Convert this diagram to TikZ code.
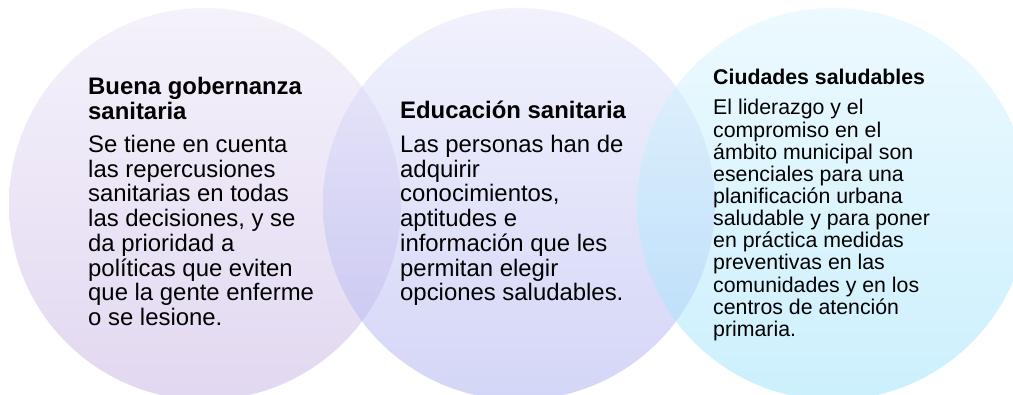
\documentclass[tikz,border=0pt]{standalone}
\usepackage{fontspec}
\setmainfont{Liberation Sans}
\definecolor{cAtop}{RGB}{235,229,247}
\definecolor{cAbot}{RGB}{197,177,227}
\definecolor{cBtop}{RGB}{227,229,251}
\definecolor{cBbot}{RGB}{169,173,239}
\definecolor{cCtop}{RGB}{219,245,255}
\definecolor{cCbot}{RGB}{153,225,251}
\newcommand{\toplines}[1]{\begin{tabular}[t]{@{}l@{}}#1\end{tabular}}
\tikzset{
  bubble/.style={opacity=0.5},
  ttl/.style={anchor=base west, inner sep=0pt, font=\fontsize{23.9}{24}\selectfont\bfseries},
  bodytxt/.style={anchor=base west, inner sep=0pt, font=\fontsize{23.9}{24.4}\selectfont},
  ttlsmall/.style={anchor=base west, inner sep=0pt, font=\fontsize{21.3}{22}\selectfont\bfseries},
  bodysmall/.style={anchor=base west, inner sep=0pt, font=\fontsize{21.3}{22}\selectfont},
}
\begin{document}
\begin{tikzpicture}[x=1pt,y=1pt]
\useasboundingbox (0,0) rectangle (1013,394);
\clip (0,0) rectangle (1013,394);
\shade[bubble, top color=cAtop, bottom color=cAbot] (205,190) circle (196);
\shade[bubble, top color=cBtop, bottom color=cBbot] (519,190) circle (196);
\shade[bubble, top color=cCtop, bottom color=cCbot] (833,190) circle (196);
\node[ttl] (t1) at (88,299) {\toplines{Buena gobernanza\\sanitaria}};
\node[bodytxt] (b1) at (88,241.3) {\toplines{Se tiene en cuenta\\las repercusiones\\sanitarias en todas\\las decisiones, y se\\da prioridad a\\políticas que eviten\\que la gente enferme\\o se lesione.}};
\node[ttl] (t2) at (400,275.7) {Educación sanitaria};
\node[bodytxt] (b2) at (400,241.3) {\toplines{Las personas han de\\adquirir\\conocimientos,\\aptitudes e\\información que les\\permitan elegir\\opciones saludables.}};
\node[ttlsmall] (t3) at (713,309) {Ciudades saludables};
\node[bodysmall] (b3) at (713,279) {\toplines{El liderazgo y el\\compromiso en el\\ámbito municipal son\\esenciales para una\\planificación urbana\\saludable y para poner\\en práctica medidas\\preventivas en las\\comunidades y en los\\centros de atención\\primaria.}};
\end{tikzpicture}
\end{document}
